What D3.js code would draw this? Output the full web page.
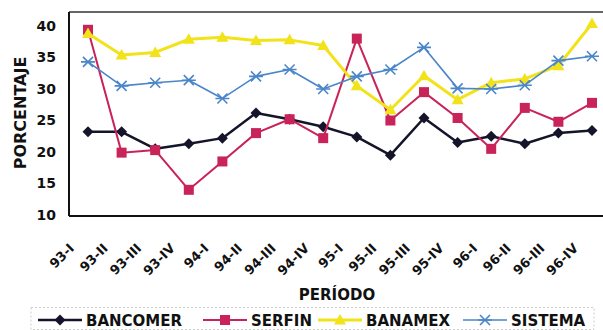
<!DOCTYPE html>
<html><head><meta charset="utf-8">
<script src="https://cdn.jsdelivr.net/npm/d3@7"></script>
<style>body{margin:0;background:#fff}svg{display:block}text{font-family:"DejaVu Sans",sans-serif;font-weight:bold;fill:#111}</style>
</head><body><svg id="c" width="603" height="330"></svg>
<script>
const periods = ["93-I","93-II","93-III","93-IV","94-I","94-II","94-III","94-IV","95-I","95-II","95-III","95-IV","96-I","96-II","96-III","96-IV"];
const bancomer = [23.2,23.2,20.5,21.3,22.2,26.2,25.2,24.0,22.4,19.5,25.4,21.5,22.5,21.3,23.0,23.4];
const serfin   = [39.4,19.9,20.3,14.0,18.5,23.0,25.2,22.2,38.0,25.0,29.5,25.4,20.5,27.0,24.8,27.8];
const banamex  = [38.8,35.4,35.8,37.9,38.2,37.7,37.8,36.9,30.5,26.7,32.1,28.3,31.0,31.6,33.7,40.4];
const sistema  = [34.3,30.5,31.0,31.4,28.5,32.0,33.1,30.0,32.0,33.1,36.6,30.1,30.0,30.6,34.5,35.2];
const yTicks = [10,15,20,25,30,35,40];
const seriesNames = ["BANCOMER","SERFIN","BANAMEX","SISTEMA"];

const series = [
  {name:seriesNames[0], values:bancomer, color:"#14142a", marker:"diamond", width:2.5},
  {name:seriesNames[1], values:serfin,   color:"#c8245a", marker:"square",  width:2},
  {name:seriesNames[2], values:banamex,  color:"#f2e21a", marker:"triangle",width:3},
  {name:seriesNames[3], values:sistema,  color:"#4a86c8", marker:"cross",   width:1.6}
];

const svg = d3.select("#c");
const x = d3.scalePoint().domain(periods).range([88, 592]);
const y = d3.scaleLinear().domain([10, 40]).range([215, 26]);
const plotLeft = 69, plotTop = 12, plotBottom = 216;

// frame
svg.append("line").attr("x1",plotLeft).attr("x2",605).attr("y1",plotTop).attr("y2",plotTop).attr("stroke","#333").attr("stroke-width",1.5);
svg.append("line").attr("x1",plotLeft).attr("x2",plotLeft).attr("y1",plotTop).attr("y2",plotBottom).attr("stroke","#111").attr("stroke-width",2);
svg.append("line").attr("x1",plotLeft).attr("x2",605).attr("y1",plotBottom).attr("y2",plotBottom).attr("stroke","#111").attr("stroke-width",2);

// y axis labels
const yAxis = d3.axisLeft(y).tickValues(yTicks).tickSize(0).tickPadding(0);
const gy = svg.append("g").attr("transform","translate(56,0)").call(yAxis);
gy.select(".domain").remove();
gy.selectAll("text").attr("font-size",14).attr("fill","#111").attr("font-family","DejaVu Sans").attr("font-weight","bold");

// x axis labels
const xAxis = d3.axisBottom(x).tickSize(0).tickPadding(0);
const gx = svg.append("g").call(xAxis);
gx.select(".domain").remove();
gx.selectAll(".tick").attr("transform", d => `translate(${x(d)-13},249)`);
gx.selectAll("text").attr("font-size",13).attr("fill","#111").attr("font-family","DejaVu Sans").attr("font-weight","bold")
  .attr("text-anchor","end").attr("dy",0).attr("y",0).attr("transform","rotate(-45)");

// axis titles
svg.append("text").attr("transform","translate(20,113) rotate(-90)").attr("text-anchor","middle")
  .attr("font-size",16).attr("dy","0.35em").text("PORCENTAJE");
svg.append("text").attr("x",337).attr("y",300).attr("text-anchor","middle").attr("font-size",15).text("PERÍODO");

function drawMarker(g, type, color, cx, cy){
  if(type==="diamond"){
    g.append("path").attr("d",`M${cx},${cy-5.5}L${cx+5.5},${cy}L${cx},${cy+5.5}L${cx-5.5},${cy}Z`).attr("fill",color);
  } else if(type==="square"){
    g.append("rect").attr("x",cx-5).attr("y",cy-5).attr("width",10).attr("height",10).attr("fill",color);
  } else if(type==="triangle"){
    g.append("path").attr("d",`M${cx},${cy-6}L${cx+6},${cy+4.5}L${cx-6},${cy+4.5}Z`).attr("fill",color);
  } else {
    g.append("path").attr("d",`M${cx-5},${cy-5}L${cx+5},${cy+5}M${cx+5},${cy-5}L${cx-5},${cy+5}M${cx-7},${cy}L${cx+7},${cy}`)
      .attr("stroke",color).attr("stroke-width",1.6).attr("fill","none");
  }
}

const line = d3.line().x((d,i)=>x(periods[i])).y(d=>y(d));
series.forEach(s=>{
  const g = svg.append("g");
  g.append("path").attr("d",line(s.values)).attr("fill","none").attr("stroke",s.color).attr("stroke-width",s.width).attr("stroke-linejoin","round");
  s.values.forEach((v,i)=>drawMarker(g, s.marker, s.color, x(periods[i]), y(v)));
});

// legend
svg.append("rect").attr("x",31).attr("y",307.5).attr("width",563).attr("height",22)
  .attr("fill","none").attr("stroke","#ccc").attr("stroke-width",1).attr("stroke-dasharray","2,2");
const legX = [38, 203, 318, 463];
series.forEach((s,i)=>{
  const g = svg.append("g");
  const x0 = legX[i], ly = 320;
  g.append("line").attr("x1",x0).attr("x2",x0+44).attr("y1",ly).attr("y2",ly).attr("stroke",s.color).attr("stroke-width",s.width);
  drawMarker(g, s.marker, s.color, x0+22, ly);
  g.append("text").attr("x",x0+48).attr("y",325.5).attr("font-size",15).text(s.name);
});
</script></body></html>
